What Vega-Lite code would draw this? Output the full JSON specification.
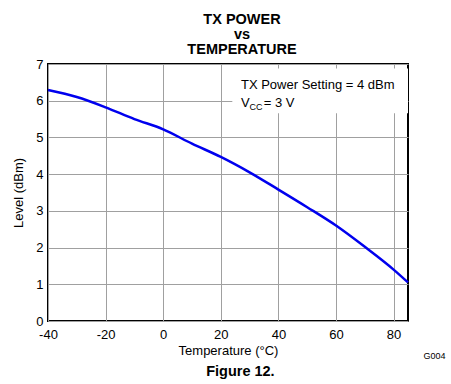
{
  "$schema": "https://vega.github.io/schema/vega-lite/v6.json",
  "width": 360,
  "height": 257,
  "autosize": {"type": "none"},
  "padding": {"left": 48, "top": 64, "right": 43, "bottom": 63},
  "background": "white",
  "config": {
    "font": "Liberation Sans",
    "view": {"stroke": "black", "strokeWidth": 2},
    "axis": {
      "labelFont": "Liberation Sans",
      "titleFont": "Liberation Sans",
      "labelFontSize": 13,
      "titleFontSize": 13,
      "labelColor": "black",
      "titleColor": "black",
      "titleFontWeight": "normal",
      "domain": false,
      "ticks": false,
      "labelFlush": false,
      "labelOverlap": false,
      "gridColor": "#a0a0a0",
      "gridWidth": 1,
      "gridOpacity": 1
    }
  },
  "title": {
    "text": ["TX POWER", "vs", "TEMPERATURE"],
    "font": "Liberation Sans",
    "fontSize": 14.5,
    "fontWeight": "bold",
    "lineHeight": 15,
    "anchor": "middle",
    "dx": 14,
    "offset": 1,
    "color": "black"
  },
  "datasets": {
    "curve": [
      {"temp": -40, "level": 6.29},
      {"temp": -30, "level": 6.1},
      {"temp": -20, "level": 5.82},
      {"temp": -10, "level": 5.5},
      {"temp": 0, "level": 5.22},
      {"temp": 10, "level": 4.83},
      {"temp": 20, "level": 4.47},
      {"temp": 30, "level": 4.05},
      {"temp": 40, "level": 3.58},
      {"temp": 50, "level": 3.1},
      {"temp": 60, "level": 2.6},
      {"temp": 70, "level": 2.02},
      {"temp": 80, "level": 1.4},
      {"temp": 85, "level": 1.05}
    ],
    "box": [{"x1": 24, "x2": 85, "y1": 5.66, "y2": 6.88}],
    "notes": [
      {"t": 27.0, "l": 6.43, "label": "TX Power Setting = 4 dBm", "size": 13},
      {"t": 90.4, "l": -0.946, "label": "G004", "size": 9}
    ],
    "fig": [
      {"t": 26.8, "l": -1.39, "label": "Figure 12."}
    ],
    "vcc": [
      {"t": 27.0, "l": 5.94, "label": "V", "size": 13},
      {"t": 30.0, "l": 5.84, "label": "CC", "size": 9},
      {"t": 34.9, "l": 5.94, "label": "= 3 V", "size": 13}
    ]
  },
  "encoding": {
    "x": {
      "type": "quantitative",
      "scale": {"domain": [-40, 85], "nice": false},
      "axis": {"values": [-40, -20, 0, 20, 40, 60, 80], "labelExpr": "toString(datum.value)", "title": "Temperature (°C)", "labelPadding": 7, "titlePadding": 3}
    },
    "y": {
      "type": "quantitative",
      "scale": {"domain": [0, 7], "nice": false},
      "axis": {"values": [0, 1, 2, 3, 4, 5, 6, 7], "title": "Level (dBm)", "labelPadding": 5, "titlePadding": 10}
    }
  },
  "layer": [
    {
      "data": {"name": "box"},
      "mark": {"type": "rect", "color": "white"},
      "encoding": {
        "x": {"field": "x1"},
        "x2": {"field": "x2"},
        "y": {"field": "y1"},
        "y2": {"field": "y2"}
      }
    },
    {
      "data": {"name": "curve"},
      "mark": {"type": "line", "color": "#0000ee", "strokeWidth": 2.5, "interpolate": "monotone"},
      "encoding": {
        "x": {"field": "temp"},
        "y": {"field": "level"}
      }
    },
    {
      "data": {"name": "notes"},
      "mark": {"type": "text", "align": "left", "baseline": "middle", "color": "black", "clip": false},
      "encoding": {
        "x": {"field": "t"},
        "y": {"field": "l"},
        "text": {"field": "label"},
        "size": {"field": "size", "type": "quantitative", "scale": null}
      }
    },
    {
      "data": {"name": "fig"},
      "mark": {"type": "text", "align": "center", "baseline": "middle", "color": "black", "fontSize": 14.5, "fontWeight": "bold", "clip": false},
      "encoding": {
        "x": {"field": "t"},
        "y": {"field": "l"},
        "text": {"field": "label"}
      }
    },
    {
      "data": {"name": "vcc"},
      "mark": {"type": "text", "align": "left", "baseline": "middle", "color": "black"},
      "encoding": {
        "x": {"field": "t"},
        "y": {"field": "l"},
        "text": {"field": "label"},
        "size": {"field": "size", "type": "quantitative", "scale": null}
      }
    }
  ]
}
